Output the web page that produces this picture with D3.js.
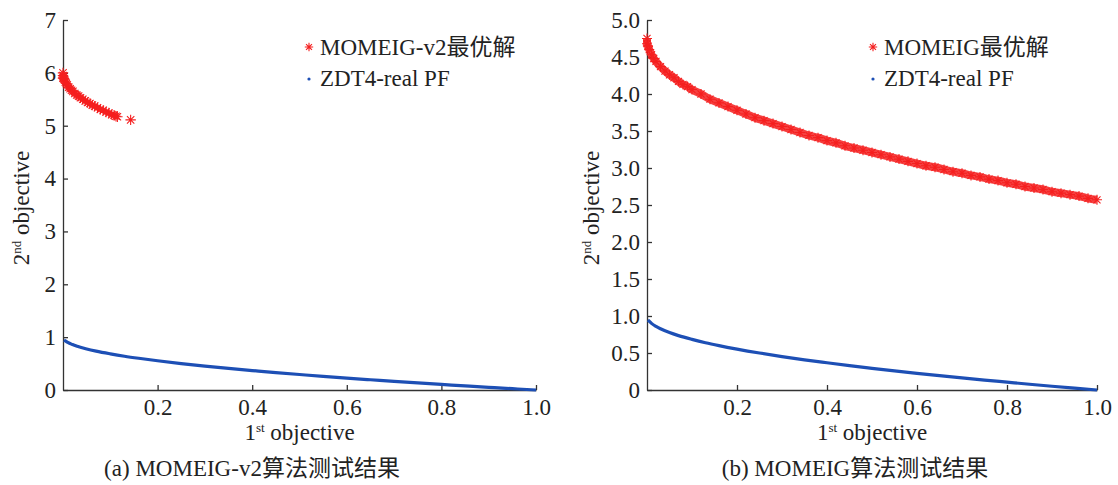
<!DOCTYPE html>
<html>
<head>
<meta charset="utf-8">
<script src="https://cdn.jsdelivr.net/npm/d3@7"></script>
<style>
  body { margin: 0; background: #fff; }
</style>
</head>
<body>
<svg id="chart" width="1118" height="485"></svg>
<script>
// MOMEIG-v2 solutions (panel a)
const v2F1 = [0, 0, 0, 0.001, 0.002, 0.003, 0.005, 0.007, 0.009, 0.012, 0.015, 0.018, 0.021, 0.025, 0.029, 0.033, 0.037, 0.042, 0.047, 0.052, 0.057, 0.062, 0.067, 0.073, 0.079, 0.085, 0.091, 0.097, 0.103, 0.108, 0.112, 0.115, 0.143];
const v2F2 = [6.00, 5.95, 5.90, 5.92, 5.89, 5.87, 5.83, 5.80, 5.77, 5.73, 5.70, 5.67, 5.65, 5.61, 5.58, 5.56, 5.53, 5.50, 5.47, 5.44, 5.42, 5.39, 5.37, 5.34, 5.31, 5.29, 5.26, 5.24, 5.21, 5.20, 5.18, 5.17, 5.11];

// MOMEIG solutions (panel b)
const mF1 = [0, 0, 0.002, 0.005, 0.01, 0.015, 0.02, 0.03, 0.04, 0.05, 0.06, 0.07, 0.08, 0.09, 0.10, 0.12, 0.14, 0.16, 0.18, 0.20, 0.22, 0.24, 0.26, 0.28, 0.30, 0.32, 0.34, 0.36, 0.38, 0.40, 0.42, 0.44, 0.46, 0.48, 0.50, 0.52, 0.54, 0.56, 0.58, 0.60, 0.62, 0.64, 0.66, 0.68, 0.70, 0.72, 0.74, 0.76, 0.78, 0.80, 0.82, 0.84, 0.86, 0.88, 0.90, 0.92, 0.94, 0.96, 0.98, 1.00];
const mF2 = [4.75, 4.68, 4.65, 4.60, 4.53, 4.48, 4.44, 4.37, 4.31, 4.26, 4.22, 4.17, 4.13, 4.10, 4.06, 4.00, 3.93, 3.88, 3.83, 3.78, 3.73, 3.68, 3.64, 3.60, 3.56, 3.52, 3.48, 3.44, 3.41, 3.37, 3.34, 3.30, 3.27, 3.24, 3.21, 3.18, 3.15, 3.12, 3.09, 3.06, 3.03, 3.01, 2.98, 2.95, 2.93, 2.90, 2.88, 2.85, 2.83, 2.80, 2.78, 2.75, 2.73, 2.71, 2.68, 2.66, 2.64, 2.62, 2.59, 2.57];

// ZDT4 real Pareto front
const pfF1 = [0.002, 0.005, 0.01, 0.02, 0.03, 0.05, 0.07, 0.10, 0.13, 0.16, 0.20, 0.25, 0.30, 0.35, 0.40, 0.45, 0.50, 0.55, 0.60, 0.65, 0.70, 0.75, 0.80, 0.85, 0.90, 0.95, 1.00];
const pfF2 = [0.945, 0.929, 0.900, 0.859, 0.827, 0.776, 0.735, 0.684, 0.639, 0.600, 0.553, 0.500, 0.452, 0.408, 0.368, 0.329, 0.293, 0.258, 0.225, 0.194, 0.163, 0.134, 0.106, 0.078, 0.051, 0.025, 0.000];

const xTicks = [0.2, 0.4, 0.6, 0.8, 1.0];
const yTicksA = [0, 1, 2, 3, 4, 5, 6, 7];
const yTicksB = [0, 0.5, 1.0, 1.5, 2.0, 2.5, 3.0, 3.5, 4.0, 4.5, 5.0];

const redColor = "#f51f1f";
const blueColor = "#1d4fb5";
const fontSize = "23px";
const fontFam = "'Liberation Serif', 'DejaVu Serif', 'Noto Sans CJK SC'";

let svg = d3.select("#chart");

function zip(a, b) { return a.map((v, i) => [v, b[i]]); }

function asterisk(r) {
  let d = r * 0.707;
  return "M" + (-r) + ",0L" + r + ",0M0," + (-r) + "L0," + r +
    "M" + (-d) + "," + (-d) + "L" + d + "," + d + "M" + (-d) + "," + d + "L" + d + "," + (-d);
}

function label(sel) {
  return sel.style("font-family", fontFam).style("font-size", fontSize).attr("fill", "#222");
}

function drawPanel(opt) {
  let x = d3.scaleLinear().domain([0, 1]).range([opt.x0, opt.x1]);
  let y = d3.scaleLinear().domain([0, opt.yMax]).range([390, 20]);
  let g = svg.append("g");

  // axes, ticks pointing inside
  let xAxis = d3.axisBottom(x).tickValues(xTicks).tickFormat(d3.format(".1f"))
    .tickSizeInner(-5).tickSizeOuter(0).tickPadding(8);
  let yAxis = d3.axisLeft(y).tickValues(opt.yTicks).tickFormat(opt.yFormat)
    .tickSizeInner(-5).tickSizeOuter(0).tickPadding(7);

  let gx = g.append("g").attr("transform", "translate(0,390)").call(xAxis);
  let gy = g.append("g").attr("transform", "translate(" + opt.x0 + ",0)").call(yAxis);
  [gx, gy].forEach(a => {
    a.selectAll("path, line").attr("stroke", "#333").attr("stroke-width", 1.3);
    label(a.selectAll("text"));
  });
  gx.selectAll("text").attr("dy", "0.72em");

  // Pareto front
  let line = d3.line().x(d => x(d[0])).y(d => y(d[1])).curve(d3.curveMonotoneX);
  g.append("path")
    .datum(zip(pfF1, pfF2))
    .attr("d", line)
    .attr("fill", "none")
    .attr("stroke", blueColor)
    .attr("stroke-width", 3.2);

  // obtained solutions: dense band only where points overlap, isolated points stay single stars
  let pts = zip(opt.f1, opt.f2);
  g.append("path")
    .datum(pts.filter(d => d[0] <= opt.bandEnd))
    .attr("d", line)
    .attr("fill", "none")
    .attr("stroke", redColor)
    .attr("stroke-opacity", 0.85)
    .attr("stroke-width", opt.bandW);
  g.selectAll(".star")
    .data(pts).enter()
    .append("path")
    .attr("d", asterisk(opt.starR))
    .attr("transform", d => "translate(" + x(d[0]) + "," + y(d[1]) + ")")
    .attr("fill", "none")
    .attr("stroke", redColor)
    .attr("stroke-width", 1.1);

  // legend
  g.append("path")
    .attr("d", asterisk(4.2))
    .attr("transform", "translate(" + opt.legX + ",47)")
    .attr("stroke", redColor).attr("stroke-width", 1.1).attr("fill", "none");
  label(g.append("text"))
    .attr("x", opt.legX + 11).attr("y", 55)
    .text(opt.name);
  g.append("circle")
    .attr("cx", opt.legX).attr("cy", 79).attr("r", 1.6)
    .attr("fill", blueColor);
  label(g.append("text"))
    .attr("x", opt.legX + 11).attr("y", 86)
    .text("ZDT4-real PF");

  // x title
  let xt = label(g.append("text"))
    .attr("x", (opt.x0 + opt.x1) / 2).attr("y", 440)
    .attr("text-anchor", "middle");
  xt.append("tspan").text("1");
  xt.append("tspan").attr("dy", -8).style("font-size", "13px").text("st");
  xt.append("tspan").attr("dy", 8).text(" objective");

  // y title
  let yt = label(g.append("text"))
    .attr("transform", "translate(" + opt.yTitleX + ",208) rotate(-90)")
    .attr("text-anchor", "middle");
  yt.append("tspan").text("2");
  yt.append("tspan").attr("dy", -8).style("font-size", "13px").text("nd");
  yt.append("tspan").attr("dy", 8).text(" objective");

  // caption
  label(g.append("text"))
    .attr("x", opt.capX).attr("y", 476)
    .attr("text-anchor", "middle")
    .text(opt.caption);
}

drawPanel({
  x0: 63, x1: 536, yMax: 7, yTicks: yTicksA, yFormat: d3.format("d"),
  f1: v2F1, f2: v2F2, bandW: 6, starR: 5.2, bandEnd: 0.115,
  name: "MOMEIG-v2最优解", legX: 309, yTitleX: 29,
  capX: 252, caption: "(a) MOMEIG-v2算法测试结果"
});

drawPanel({
  x0: 647, x1: 1097, yMax: 5, yTicks: yTicksB, yFormat: d => d === 0 ? "0" : d3.format(".1f")(d),
  f1: mF1, f2: mF2, bandW: 8, starR: 5, bandEnd: 1,
  name: "MOMEIG最优解", legX: 873, yTitleX: 599,
  capX: 855, caption: "(b) MOMEIG算法测试结果"
});
</script>
</body>
</html>
